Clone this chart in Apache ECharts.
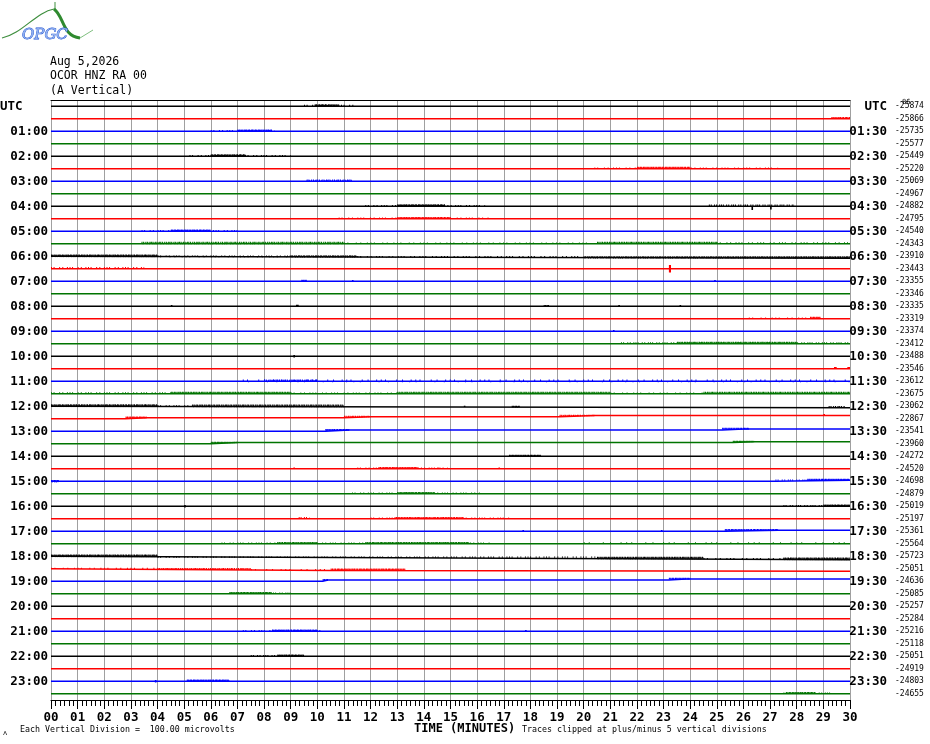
<!DOCTYPE html>
<html><head><meta charset="utf-8">
<script src="https://cdn.jsdelivr.net/npm/echarts@6/dist/echarts.min.js"></script>
<style>html,body{margin:0;padding:0;background:#fff}#c{width:930px;height:744px}</style>
</head><body><div id="c"></div>
<script>
// ---- data ----
const minuteLabels = ['00','01','02','03','04','05','06','07','08','09','10','11','12','13','14','15','16','17','18','19','20','21','22','23','24','25','26','27','28','29','30'];
const hourLabels = ['UTC','01:00','02:00','03:00','04:00','05:00','06:00','07:00','08:00','09:00','10:00','11:00','12:00','13:00','14:00','15:00','16:00','17:00','18:00','19:00','20:00','21:00','22:00','23:00'];
const endLabels = ['UTC','01:30','02:30','03:30','04:30','05:30','06:30','07:30','08:30','09:30','10:30','11:30','12:30','13:30','14:30','15:30','16:30','17:30','18:30','19:30','20:30','21:30','22:30','23:30'];
const offsetLabels = ['-25874','-25866','-25735','-25577','-25449','-25220','-25069','-24967','-24882','-24795','-24540','-24343','-23910','-23443','-23355','-23346','-23335','-23319','-23374','-23412','-23488','-23546','-23612','-23675','-23062','-22867','-23541','-23960','-24272','-24520','-24698','-24879','-25019','-25197','-25361','-25564','-25723','-25051','-24636','-25085','-25257','-25284','-25216','-25118','-25051','-24919','-24803','-24655'];
const traceColors = ['#000000','#ff0000','#0000ff','#007400'];
// baseline drift: [trace, minute, offset in trace spacings]
const driftPoints = [
  [12,0,0],[12,30,0.16],
  [24,0,0],[24,30,0.11],
  [25,0,0],[25,2.8,0],[25,3.6,-0.08],[25,11,-0.08],[25,12,-0.16],[25,19.1,-0.16],[25,20.4,-0.26],[25,30,-0.26],
  [26,0,0],[26,10.3,0],[26,11.2,-0.1],[26,25.2,-0.1],[26,26.2,-0.19],[26,30,-0.19],
  [27,0,0],[27,6,0],[27,7,-0.1],[27,25.6,-0.1],[27,26.4,-0.16],[27,30,-0.16],
  [30,0,0],[30,27.2,0],[30,30,-0.08],
  [34,0,0],[34,25.3,0],[34,27.3,-0.08],[34,30,-0.08],
  [36,0,0],[36,30,0.27],
  [37,0,0],[37,10.5,0.13],[37,30,0.19],
  [38,0,0],[38,10.2,0],[38,10.4,-0.1],[38,23.2,-0.1],[38,24,-0.19],[38,30,-0.19]
];
// noise bursts: [trace, startMin, endMin, upAmp, downAmp, density]
const bursts = [
  [0,9.5,11.4,0.12,0,0.3],[0,9.9,10.8,0.16,0,1],
  [1,29.3,30,0.14,0,1],
  [2,6.0,8.4,0.1,0,0.3],[2,7.0,8.3,0.14,0,1],
  [4,5.2,9.0,0.1,0,0.3],[4,6.0,7.3,0.16,0,1],
  [5,20.4,27.3,0.1,0,0.25],[5,22.0,24.0,0.16,0,1],
  [6,9.6,11.3,0.14,0,0.6],
  [8,11.8,16.3,0.1,0,0.3],[8,13.0,14.8,0.16,0,1],[8,24.7,27.9,0.14,0,0.5],[8,26.3,26.36,0,0.3,1],[8,27.0,27.06,0,0.25,1],
  [9,10.8,16.5,0.1,0,0.25],[9,13.0,15.0,0.14,0,1],
  [10,3.4,7.0,0.1,0,0.3],[10,4.5,6.0,0.14,0,1],
  [11,3.4,11,0.16,0.04,0.7],[11,11,20.4,0.1,0,0.2],[11,20.5,25,0.16,0,0.8],[11,25,30,0.12,0,0.25],
  [12,0,4,0.16,0.05,0.9],[12,4,9,0.1,0.05,0.3],[12,9,11.5,0.14,0.05,0.8],[12,11.5,20,0.1,0.04,0.25],[12,20,30,0.14,0.05,0.8],
  [13,0,3.5,0.14,0,0.3],[13,23.2,23.28,0.3,0.3,1],
  [14,9.4,9.6,0.12,0,1],[14,11.3,11.36,0.1,0,1],[14,24.9,24.96,0.1,0,1],
  [16,4.5,4.56,0.1,0,1],[16,9.2,9.3,0.12,0,1],[16,18.5,18.7,0.1,0,1],[16,21.3,21.36,0.1,0,1],[16,23.6,23.66,0.1,0,1],
  [17,26.2,28.9,0.1,0,0.2],[17,28.5,28.9,0.16,0,1],
  [18,21.1,21.16,0.1,0,1],
  [19,21.4,30,0.12,0,0.4],[19,23.5,28,0.16,0,0.8],
  [20,9.1,9.16,0.1,0.1,1],
  [21,29.4,29.5,0.14,0,1],[21,29.9,30,0.14,0,1],
  [22,7.2,30,0.14,0.08,0.15],[22,8.0,10.0,0.14,0.04,0.6],
  [23,0,4.5,0.12,0,0.3],[23,4.5,9,0.16,0,0.9],[23,9,13,0.1,0,0.25],[23,13,21,0.16,0,0.8],[23,21,24.5,0.1,0,0.2],[23,24.5,30,0.16,0,0.8],
  [24,0,4,0.16,0.04,0.9],[24,4,5.3,0.1,0,0.3],[24,5.3,11,0.16,0.04,0.8],[24,15.5,15.56,0.1,0,1],[24,17.3,17.6,0.1,0.05,1],[24,29.2,29.8,0.12,0,0.6],
  [25,2.8,3.6,0.14,0,1],[25,11.0,12.0,0.12,0,0.7],[25,19.1,20.4,0.12,0,0.7],[25,29.0,29.06,0.12,0,1],
  [26,10.3,11.2,0.14,0,1],[26,25.2,26.2,0.14,0,1],
  [27,6.0,7.0,0.12,0,1],[27,25.6,26.4,0.12,0,1],
  [28,17.2,18.4,0.12,0,1],
  [29,9.1,9.16,0.1,0,1],[29,11.5,14.9,0.1,0,0.3],[29,12.3,13.8,0.14,0,1],[29,14.5,14.56,0.1,0,1],[29,16.8,16.86,0.1,0,1],
  [30,0,0.3,0.1,0.1,1],[30,27.2,30,0.1,0,0.4],[30,28.4,30,0.14,0,1],
  [31,11.3,16.1,0.1,0,0.3],[31,13.0,14.4,0.14,0,1],
  [32,5.0,5.06,0.1,0.1,1],[32,27.5,30,0.1,0,0.4],[32,29.0,30,0.14,0,1],
  [33,9.3,9.7,0.14,0,0.5],[33,12.0,17.2,0.1,0,0.3],[33,12.9,15.5,0.14,0,0.9],
  [34,25.3,27.3,0.14,0,1],[34,17.7,17.76,0.1,0,1],[34,22.9,22.96,0.1,0,1],
  [35,6.4,16.5,0.1,0,0.3],[35,8.5,10,0.14,0,0.9],[35,11.8,15.7,0.14,0,0.9],[35,20,30,0.12,0,0.12],
  [36,0,4,0.16,0.04,0.9],[36,4,20.5,0.1,0,0.3],[36,20.5,24.5,0.16,0.04,0.9],[36,24.5,27.5,0.1,0,0.2],[36,27.5,30,0.16,0.04,0.9],
  [37,0,4,0.1,0,0.2],[37,4,7.5,0.14,0,0.7],[37,7.5,10.5,0.1,0,0.15],[37,10.5,13.3,0.16,0,1],
  [38,10.2,10.4,0.14,0,1],[38,23.2,24.0,0.14,0,1],
  [39,6.7,9.0,0.1,0,0.4],[39,6.7,8.3,0.14,0,1],
  [42,7.2,10.2,0.1,0,0.3],[42,8.3,10.0,0.14,0,1],[42,17.8,17.86,0.1,0,1],
  [44,7.5,9.5,0.1,0,0.4],[44,8.5,9.5,0.14,0,1],
  [46,3.9,3.96,0.1,0.1,1],[46,5.1,6.7,0.14,0,1],
  [47,27.5,29.3,0.1,0,0.4],[47,27.6,28.7,0.14,0,1]
];

// ---- helpers ----
const NT = 48;
const MONO = '"DejaVu Sans Mono", "Liberation Mono", monospace';
function driftOf(t){
  const pts = driftPoints.filter(p => p[0] === t).map(p => [p[1], p[2]]);
  return pts.length ? pts : [[0,0],[30,0]];
}
function offsetAt(t, m){
  const pts = driftOf(t);
  for (let k = 0; k < pts.length - 1; k++) {
    if (m >= pts[k][0] && m <= pts[k+1][0]) {
      const span = (pts[k+1][0] - pts[k][0]) || 1;
      const f = (m - pts[k][0]) / span;
      return pts[k][1] + f * (pts[k+1][1] - pts[k][1]);
    }
  }
  return pts[pts.length-1][1];
}
function tickDash(dens){
  const g = Math.max(0, 1 / dens - 1);
  return [1, g * 0.5 + 0.4, 1, g * 1.7 + 0.6, 1, g * 0.8 + 0.3, 1, g * 1.2 + 0.8, 1, g * 0.6 + 0.2];
}
const leftCats = [], rightCats = [];
for (let i = 0; i < NT; i++) {
  leftCats.push(i % 2 === 0 && i > 0 ? hourLabels[i/2] : '');
  rightCats.push(i % 2 === 0 ? endLabels[i/2] : '');
}

const series = [];
for (let t = 0; t < NT; t++) {
  series.push({
    type: 'line', xAxisIndex: 0, yAxisIndex: 0,
    data: driftOf(t).map(p => [p[0], t + p[1]]),
    showSymbol: false, symbol: 'none', silent: true, animation: false, z: 3,
    lineStyle: { color: traceColors[t % 4], width: 1.5 }
  });
}
series.push({
  type: 'custom', xAxisIndex: 0, yAxisIndex: 0, data: bursts, encode: { x: 1, y: 0 },
  silent: true, animation: false, z: 4,
  renderItem: function (params, api) {
    const t = api.value(0), m0 = api.value(1), m1 = api.value(2), up = api.value(3), dn = api.value(4), dens = api.value(5);
    const base = t + offsetAt(t, (m0 + m1) / 2);
    const a = api.coord([m0, base - up]);
    const c = api.coord([m0, base]);
    const b = api.coord([m1, base + dn]);
    const color = traceColors[t % 4];
    const w = Math.max(1.2, b[0] - a[0]);
    const hu = c[1] - a[1], hd = b[1] - c[1];
    const children = [];
    if (w < 3) {
      children.push({ type: 'rect', shape: { x: a[0], y: a[1], width: w, height: Math.max(1, hu + hd) }, style: { fill: color } });
      return { type: 'group', children: children };
    }
    if (hu > 0) {
      children.push({ type: 'line', shape: { x1: a[0], y1: c[1] - hu / 2, x2: a[0] + w, y2: c[1] - hu / 2 },
        style: { stroke: color, lineWidth: hu, lineDash: tickDash(dens) } });
      if (dens > 0.5) {
        children.push({ type: 'line', shape: { x1: a[0], y1: c[1] - hu * 0.3, x2: a[0] + w, y2: c[1] - hu * 0.3 },
          style: { stroke: color, lineWidth: hu * 0.6, lineDash: tickDash(dens), lineDashOffset: 2.3 } });
      }
    }
    if (hd > 0) {
      children.push({ type: 'line', shape: { x1: a[0], y1: c[1] + hd / 2, x2: a[0] + w, y2: c[1] + hd / 2 },
        style: { stroke: color, lineWidth: hd, lineDash: tickDash(dens * 0.6), lineDashOffset: 1.1 } });
    }
    return { type: 'group', children: children };
  }
});

const chart = echarts.init(document.getElementById('c'), null, { renderer: 'canvas' });
chart.setOption({
  animation: false,
  backgroundColor: '#ffffff',
  grid: { left: 51, top: 100, width: 799, height: 600, containLabel: false, outerBoundsMode: 'none' },
  xAxis: [
    { type: 'value', min: 0, max: 30, interval: 1, position: 'bottom',
      axisLine: { show: true, onZero: false, lineStyle: { color: '#000', width: 1 } },
      axisTick: { show: true, length: 9, lineStyle: { color: '#000', width: 1 } },
      minorTick: { show: true, splitNumber: 6, length: 6, lineStyle: { color: '#000', width: 1 } },
      splitLine: { show: true, lineStyle: { color: '#a0a0a0', width: 1 } },
      minorSplitLine: { show: false },
      axisLabel: { margin: 11, formatter: v => minuteLabels[Math.round(v)], fontFamily: MONO, fontWeight: 'bold', fontSize: 12.5, color: '#000' } },
    { type: 'value', min: 0, max: 30, position: 'top',
      axisLine: { show: true, onZero: false, lineStyle: { color: '#000', width: 1 } },
      axisTick: { show: false }, axisLabel: { show: false }, splitLine: { show: false } }
  ],
  yAxis: [
    { type: 'value', min: -0.5, max: 47.5, inverse: true, show: false },
    { type: 'category', data: leftCats, inverse: true, position: 'left',
      axisLine: { show: false }, axisTick: { show: false }, splitLine: { show: false },
      axisLabel: { interval: 0, margin: 3, fontFamily: MONO, fontWeight: 'bold', fontSize: 12.5, color: '#000' } },
    { type: 'category', data: rightCats, inverse: true, position: 'right',
      axisLine: { show: false }, axisTick: { show: false }, splitLine: { show: false },
      axisLabel: { interval: 0, margin: 37, align: 'right', fontFamily: MONO, fontWeight: 'bold', fontSize: 12.5, color: '#000' } },
    { type: 'category', data: offsetLabels, inverse: true, position: 'right',
      axisLine: { show: false }, axisTick: { show: false }, splitLine: { show: false },
      axisLabel: { interval: 0, margin: 45, align: 'left', fontFamily: MONO, fontSize: 8, color: '#000' } }
  ],
  graphic: [
    // logo
    { type: 'bezierCurve', shape: { x1: 2, y1: 38, cpx1: 22, cpy1: 34, cpx2: 36, cpy2: 12, x2: 54, y2: 9 }, style: { stroke: '#3f8f3f', lineWidth: 1.2, fill: null } },
    { type: 'line', shape: { x1: 55, y1: 2, x2: 55, y2: 11 }, style: { stroke: '#3f8f3f', lineWidth: 1 } },
    { type: 'bezierCurve', shape: { x1: 54, y1: 9, cpx1: 64, cpy1: 16, cpx2: 62, cpy2: 36, x2: 80, y2: 38 }, style: { stroke: '#2f8a2f', lineWidth: 3, fill: null } },
    { type: 'line', shape: { x1: 80, y1: 38, x2: 93, y2: 30 }, style: { stroke: '#7fbf7f', lineWidth: 1 } },
    { type: 'text', x: 22, y: 35, style: { text: 'OPGC', font: 'italic 15px "DejaVu Serif", serif', fill: '#8fb0f0', stroke: '#1f4fd0', lineWidth: 0.8, verticalAlign: 'middle' } },
    // header
    { type: 'text', x: 50, y: 62, style: { text: 'Aug 5,2026', font: '11.5px ' + MONO, fill: '#000', verticalAlign: 'middle' } },
    { type: 'text', x: 50, y: 76.5, style: { text: 'OCOR HNZ RA 00', font: '11.5px ' + MONO, fill: '#000', verticalAlign: 'middle' } },
    { type: 'text', x: 50, y: 91, style: { text: '(A Vertical)', font: '11.5px ' + MONO, fill: '#000', verticalAlign: 'middle' } },
    { type: 'text', x: 0, y: 106.5, style: { text: hourLabels[0], font: 'bold 12.5px ' + MONO, fill: '#000', verticalAlign: 'middle' } },
    { type: 'text', x: 902, y: 102, style: { text: '86', font: '7px ' + MONO, fill: '#000', verticalAlign: 'middle' } },
    // footer
    { type: 'text', x: 3, y: 733, style: { text: '\u028c', font: '7px ' + MONO, fill: '#000', verticalAlign: 'middle' } },
    { type: 'text', x: 20, y: 730, style: { text: 'Each Vertical Division =  100.00 microvolts', font: '8.3px ' + MONO, fill: '#000', verticalAlign: 'middle' } },
    { type: 'text', x: 414, y: 729, style: { text: 'TIME (MINUTES)', font: 'bold 12px ' + MONO, fill: '#000', verticalAlign: 'middle' } },
    { type: 'text', x: 522, y: 730, style: { text: 'Traces clipped at plus/minus 5 vertical divisions', font: '8.3px ' + MONO, fill: '#000', verticalAlign: 'middle' } }
  ],
  series: series
});
</script></body></html>
